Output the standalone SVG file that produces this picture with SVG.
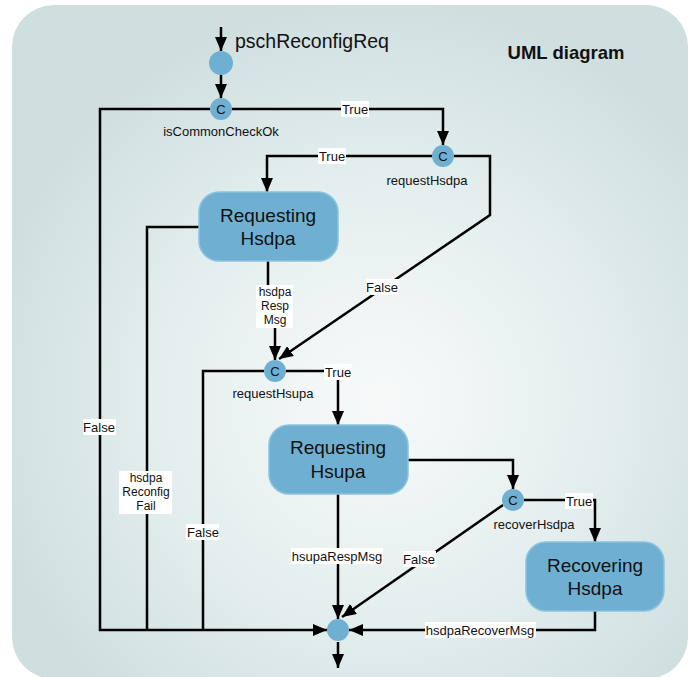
<svg xmlns="http://www.w3.org/2000/svg" width="695" height="677" viewBox="0 0 695 677">
<defs>
<radialGradient id="bg" gradientUnits="userSpaceOnUse" cx="380" cy="400" r="400">
<stop offset="0" stop-color="#f8fafa"/>
<stop offset="0.55" stop-color="#e4eeee"/>
<stop offset="1" stop-color="#cfdfe0"/>
</radialGradient>
<marker id="ah" viewBox="0 0 14 12" refX="14" refY="6" markerWidth="14" markerHeight="12" markerUnits="userSpaceOnUse" orient="auto">
<path d="M0,0 L14,6 L0,12 z" fill="#000"/>
</marker>
<style>
.ln{fill:none;stroke:#000;stroke-width:2.5;stroke-linejoin:miter}
.arr{marker-end:url(#ah)}
.lb{fill:#fff}
.lt{font-family:"Liberation Sans",Arial,sans-serif;font-size:13px;fill:#111;text-anchor:middle}
.ml{font-family:"Liberation Sans",Arial,sans-serif;font-size:12px;fill:#111;text-anchor:middle}
.st{fill:#6fb0d2;stroke:#8cc2dc;stroke-width:1.5}
.ch{fill:#6fb0d2}
.sn{font-family:"Liberation Sans",Arial,sans-serif;font-size:19px;fill:#111;text-anchor:middle}
.cn{font-family:"Liberation Sans",Arial,sans-serif;font-size:13px;fill:#111;text-anchor:middle}
</style>
</defs>
<rect x="12" y="5" width="676" height="674" rx="42" fill="url(#bg)"/>
<text x="566" y="59" font-family="'Liberation Sans',Arial,sans-serif" font-size="18.5" font-weight="bold" text-anchor="middle" fill="#111">UML diagram</text>

<g id="connectors">
<path class="ln arr" d="M221,27 L221,51"/>
<path class="ln arr" d="M221,75 L221,98"/>
<path class="ln arr" d="M232,109 L443,109 L443,145"/>
<path class="ln arr" d="M210,109 L100,109 L100,630 L327,630"/>
<path class="ln arr" d="M432,156 L267,156 L267,192"/>
<path class="ln arr" d="M454,156 L490,156 L490,215 L279,359"/>
<path class="ln arr" d="M268,261 L268,306 L275,306 L275,360"/>
<path class="ln" d="M199,227 L147,227 L147,630"/>
<path class="ln" d="M264,371 L203,371 L203,630"/>
<path class="ln arr" d="M286,371 L338,371 L338,425"/>
<path class="ln arr" d="M408,460 L513,460 L513,489"/>
<path class="ln arr" d="M338,494 L338,619"/>
<path class="ln arr" d="M503,505 L342,617"/>
<path class="ln arr" d="M524,500 L595,500 L595,542"/>
<path class="ln arr" d="M595,611 L595,630 L349,630"/>
<path class="ln arr" d="M338,642 L338,668"/>

<rect class="lb" x="341" y="101" width="28" height="16"/>
<text class="lt" x="355" y="114">True</text>
<rect class="lb" x="318" y="148" width="28" height="16"/>
<text class="lt" x="332" y="161">True</text>
<rect class="lb" x="366" y="279" width="33" height="16"/>
<text class="lt" x="382" y="292">False</text>
<rect class="lb" x="256" y="285" width="37" height="43"/>
<text class="ml" x="275" y="296">hsdpa</text>
<text class="ml" x="275" y="310">Resp</text>
<text class="ml" x="275" y="324">Msg</text>
<rect class="lb" x="324" y="364" width="28" height="16"/>
<text class="lt" x="338" y="377">True</text>
<rect class="lb" x="83" y="419" width="33" height="16"/>
<text class="lt" x="99" y="432">False</text>
<rect class="lb" x="119" y="471" width="53" height="43"/>
<text class="ml" x="146" y="482">hsdpa</text>
<text class="ml" x="146" y="496">Reconfig</text>
<text class="ml" x="146" y="510">Fail</text>
<rect class="lb" x="186" y="524" width="33" height="16"/>
<text class="lt" x="203" y="537">False</text>
<rect class="lb" x="291" y="548" width="92" height="16"/>
<text class="lt" x="337" y="561">hsupaRespMsg</text>
<rect class="lb" x="403" y="551" width="33" height="16"/>
<text class="lt" x="419" y="564">False</text>
<rect class="lb" x="565" y="493" width="28" height="16"/>
<text class="lt" x="579" y="506">True</text>
<rect class="lb" x="425" y="622" width="111" height="16"/>
<text class="lt" x="480" y="635">hsdpaRecoverMsg</text>
</g>

<g id="initial">
<circle class="ch" cx="221" cy="63" r="12"/>
<text x="235" y="48" font-family="'Liberation Sans',Arial,sans-serif" font-size="19.5" fill="#111">pschReconfigReq</text>
</g>
<g id="isCommonCheckOk">
<circle class="ch" cx="221" cy="109" r="11"/>
<text class="cn" x="221" y="114">C</text>
<text class="cn" x="221" y="136">isCommonCheckOk</text>
</g>
<g id="requestHsdpa">
<circle class="ch" cx="443" cy="156" r="11"/>
<text class="cn" x="443" y="161">C</text>
<text class="cn" x="427" y="185">requestHsdpa</text>
</g>
<g id="RequestingHsdpa">
<rect class="st" x="199" y="192" width="139" height="69" rx="20"/>
<text class="sn" x="268" y="222">Requesting</text>
<text class="sn" x="268" y="245">Hsdpa</text>
</g>
<g id="requestHsupa">
<circle class="ch" cx="275" cy="371" r="11"/>
<text class="cn" x="275" y="376">C</text>
<text class="cn" x="273" y="398">requestHsupa</text>
</g>
<g id="RequestingHsupa">
<rect class="st" x="269" y="425" width="139" height="69" rx="20"/>
<text class="sn" x="338" y="454">Requesting</text>
<text class="sn" x="338" y="478">Hsupa</text>
</g>
<g id="recoverHsdpa">
<circle class="ch" cx="513" cy="500" r="11"/>
<text class="cn" x="513" y="505">C</text>
<text class="cn" x="534" y="529">recoverHsdpa</text>
</g>
<g id="RecoveringHsdpa">
<rect class="st" x="526" y="542" width="138" height="69" rx="20"/>
<text class="sn" x="595" y="572">Recovering</text>
<text class="sn" x="595" y="595">Hsdpa</text>
</g>
<g id="junction">
<circle class="ch" cx="338" cy="630" r="11"/>
</g>
</svg>
